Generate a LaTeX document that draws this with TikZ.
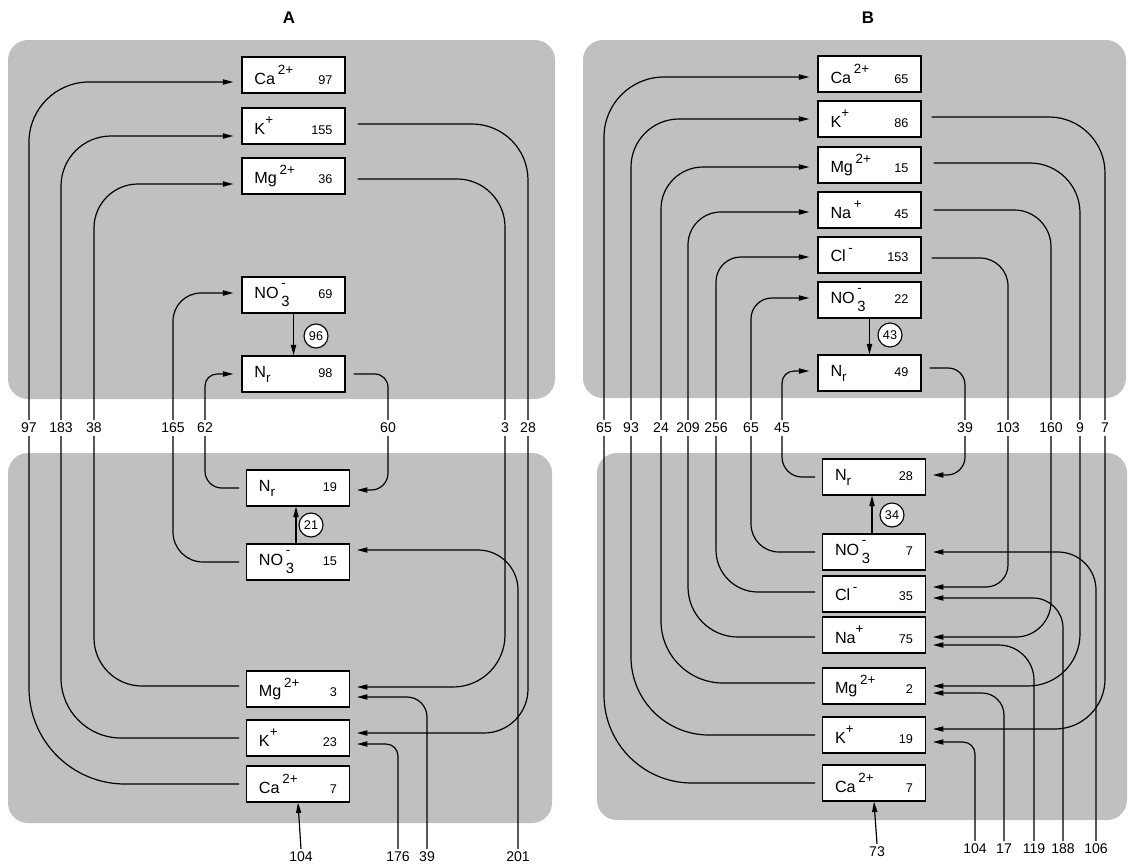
\documentclass[tikz,border=0pt]{standalone}
\usepackage{fontspec}
\setmainfont{Liberation Sans}
\usetikzlibrary{arrows.meta}
\definecolor{panelgray}{RGB}{192,192,192}
\newcommand{\chg}[1]{\raisebox{1.15ex}{\fontsize{9.5}{10}\selectfont #1}}
\newcommand{\amt}[1]{{\fontsize{9}{10}\selectfont #1}}
\newcommand{\nitrate}{NO\,\rlap{\raisebox{1.25ex}{\fontsize{9.5}{10}\selectfont -}}\raisebox{-0.9ex}{\fontsize{10.5}{11}\selectfont 3}}
\newcommand{\nred}{N\raisebox{-0.6ex}{\fontsize{9.5}{10}\selectfont r}}
\newcommand{\pool}[2]{\makebox[1.95cm]{#1\hfill\amt{#2}}}

\begin{document}
\begin{tikzpicture}[
    x=0.025cm, y=-0.025cm,
    box/.style={draw, fill=white, line width=0.9pt, minimum width=2.575cm,
                minimum height=0.9cm, inner sep=0pt, font=\fontsize{11.5}{13}\selectfont},
    rate/.style={circle, draw, fill=white, line width=0.8pt, minimum size=0.6cm,
                 inner sep=0pt, font=\fontsize{9}{10}\selectfont},
    lbl/.style={inner sep=2pt, font=\fontsize{10}{11}\selectfont},
    ttl/.style={font=\bfseries\fontsize{12}{13}\selectfont},
    flow/.style={line width=0.85pt},
    >={Triangle[length=0.26cm,width=0.13cm]}
  ]
    \useasboundingbox (0,0) rectangle (1130,863);

    % Panels
    \fill[panelgray, rounded corners=0.5cm] (8,40) rectangle (555,399);
    \fill[panelgray, rounded corners=0.5cm] (8,453) rectangle (552,823);
    \fill[panelgray, rounded corners=0.5cm] (583,40) rectangle (1126,398);
    \fill[panelgray, rounded corners=0.5cm] (597,453) rectangle (1127,820);

    \node[ttl] (titleA) at (289,18) {A};
    \node[ttl] (titleB) at (868,18) {B};

    % ---------------- A ----------------
    % Upper pools
    \node[box] (aCaT) at (293.5,75)  {\pool{Ca\,\chg{2+}}{97}};
    \node[box] (aKT)  at (293.5,126) {\pool{K\chg{+}}{155}};
    \node[box] (aMgT) at (293.5,176) {\pool{Mg\,\chg{2+}}{36}};
    \node[box] (aNOT) at (293.5,295) {\pool{\nitrate}{69}};
    \node[box] (aNrT) at (293.5,374) {\pool{\nred}{98}};
    \node[rate] (aRT) at (316,336) {96};

    % Lower pools
    \node[box] (aNrB) at (298,488) {\pool{\nred}{19}};
    \node[box] (aNOB) at (298,562) {\pool{\nitrate}{15}};
    \node[box] (aMgB) at (298,689) {\pool{Mg\,\chg{2+}}{3}};
    \node[box] (aKB)  at (298,738) {\pool{K\chg{+}}{23}};
    \node[box] (aCaB) at (298,784) {\pool{Ca\,\chg{2+}}{7}};
    \node[rate] (aRB) at (311,525) {21};

    % Flow values
    \node[lbl] (a97)  at (29,428)  {97};
    \node[lbl] (a183) at (61,428)  {183};
    \node[lbl] (a38)  at (94,428)  {38};
    \node[lbl] (a165) at (173,428) {165};
    \node[lbl] (a62)  at (205,428) {62};
    \node[lbl] (a60)  at (388,428) {60};
    \node[lbl] (a3)   at (505,428) {3};
    \node[lbl] (a28)  at (528,428) {28};
    \node[lbl] (a104) at (301,857) {104};
    \node[lbl] (a176) at (398,857) {176};
    \node[lbl] (a39)  at (427,857) {39};
    \node[lbl] (a201) at (518,857) {201};

    % Upward flows into upper pools
    \draw[flow, ->, rounded corners=1.5cm, shorten >=0.2cm] (a97.north) |- ([yshift=-0.175cm]aCaT.west);
    \draw[flow, ->, rounded corners=1.25cm, shorten >=0.2cm] (a183.north) |- ([yshift=-0.25cm]aKT.west);
    \draw[flow, ->, rounded corners=1.1cm, shorten >=0.2cm] (a38.north) |- ([yshift=-0.2cm]aMgT.west);
    \draw[flow, ->, rounded corners=0.7cm, shorten >=0.2cm] (a165.north) |- ([yshift=0.05cm]aNOT.west);
    \draw[flow, ->, rounded corners=0.3cm, shorten >=0.2cm] (a62.north) |- (aNrT.west);
    \draw[flow, rounded corners=1.4cm, shorten <=0.3cm] ([yshift=0.05cm]aKT.east) -| (a28.north);
    \draw[flow, rounded corners=1.2cm, shorten <=0.3cm] ([yshift=-0.075cm]aMgT.east) -| (a3.north);
    \draw[flow, rounded corners=0.33cm, shorten <=0.2cm] (aNrT.east) -| (a60.north);
    \draw[flow, ->] (aNOT.south) -- (aNrT.north);

    % Lower pools
    \draw[flow, rounded corners=2.4cm, shorten >=0.17cm] (a97.south) |- (aCaB.west);
    \draw[flow, rounded corners=1.5cm, shorten >=0.17cm] (a183.south) |- (aKB.west);
    \draw[flow, rounded corners=1.2cm, shorten >=0.17cm] (a38.south) |- ([yshift=0.075cm]aMgB.west);
    \draw[flow, rounded corners=0.75cm, shorten >=0.17cm] (a165.south) |- (aNOB.west);
    \draw[flow, rounded corners=0.42cm, shorten >=0.17cm] (a62.south) |- (aNrB.west);
    \draw[flow, ->, rounded corners=0.42cm, shorten >=0.17cm] (a60.south) |- ([yshift=-0.05cm]aNrB.east);
    \draw[flow, ->, rounded corners=1.3cm, shorten >=0.17cm] (a3.south) |- ([yshift=0.05cm]aMgB.east);
    \draw[flow, ->, rounded corners=1.1cm, shorten >=0.17cm] (a28.south) |- ([yshift=0.125cm]aKB.east);
    \draw[flow, ->, rounded corners=1cm, shorten >=0.17cm] (a201.north) |- ([yshift=0.3cm]aNOB.east);
    \draw[flow, ->, rounded corners=0.5cm, shorten >=0.17cm] (a39.north) |- ([yshift=-0.2cm]aMgB.east);
    \draw[flow, ->, rounded corners=0.3cm, shorten >=0.17cm] (a176.north) |- ([yshift=-0.15cm]aKB.east);
    \draw[flow, ->] (a104.north) -- (aCaB.south);
    \draw[flow, ->] ([xshift=-0.05cm]aNOB.north) -- ([xshift=-0.05cm]aNrB.south);

    % ---------------- B ----------------
    % Upper pools
    \node[box] (bCaT) at (869.5,74)  {\pool{Ca\,\chg{2+}}{65}};
    \node[box] (bKT)  at (869.5,119) {\pool{K\chg{+}}{86}};
    \node[box] (bMgT) at (869.5,165) {\pool{Mg\,\chg{2+}}{15}};
    \node[box] (bNaT) at (869.5,210) {\pool{Na\,\chg{+}}{45}};
    \node[box] (bClT) at (869.5,255) {\pool{Cl\,\chg{-}}{153}};
    \node[box] (bNOT) at (869.5,300) {\pool{\nitrate}{22}};
    \node[box] (bNrT) at (869.5,373) {\pool{\nred}{49}};
    \node[rate] (bRT) at (890,335) {43};

    % Lower pools
    \node[box] (bNrB) at (874,477) {\pool{\nred}{28}};
    \node[box] (bNOB) at (874,552) {\pool{\nitrate}{7}};
    \node[box] (bClB) at (874,594) {\pool{Cl\,\chg{-}}{35}};
    \node[box] (bNaB) at (874,635) {\pool{Na\chg{+}}{75}};
    \node[box] (bMgB) at (874,686) {\pool{Mg\,\chg{2+}}{2}};
    \node[box] (bKB)  at (874,735) {\pool{K\chg{+}}{19}};
    \node[box] (bCaB) at (874,783) {\pool{Ca\,\chg{2+}}{7}};
    \node[rate] (bRB) at (892,515) {34};

    % Flow values
    \node[lbl] (b65a) at (604,428)  {65};
    \node[lbl] (b93)  at (631,428)  {93};
    \node[lbl] (b24)  at (661,428)  {24};
    \node[lbl] (b209) at (688,428)  {209};
    \node[lbl] (b256) at (716,428)  {256};
    \node[lbl] (b65b) at (751,428)  {65};
    \node[lbl] (b45)  at (782,428)  {45};
    \node[lbl] (b39)  at (965,428)  {39};
    \node[lbl] (b103) at (1008,428) {103};
    \node[lbl] (b160) at (1051,428) {160};
    \node[lbl] (b9)   at (1080,428) {9};
    \node[lbl] (b7)   at (1105,428) {7};
    \node[lbl] (b73)  at (877,852)  {73};
    \node[lbl] (b104) at (975,849)  {104};
    \node[lbl] (b17)  at (1004,849) {17};
    \node[lbl] (b119) at (1034,849) {119};
    \node[lbl] (b188) at (1063,849) {188};
    \node[lbl] (b106) at (1096,849) {106};

    % Upward flows into upper pools
    \draw[flow, ->, rounded corners=1.5cm, shorten >=0.2cm] (b65a.north) |- ([yshift=-0.075cm]bCaT.west);
    \draw[flow, ->, rounded corners=1.2cm, shorten >=0.2cm] (b93.north) |- (bKT.west);
    \draw[flow, ->, rounded corners=1.05cm, shorten >=0.2cm] (b24.north) |- ([yshift=-0.05cm]bMgT.west);
    \draw[flow, ->, rounded corners=0.82cm, shorten >=0.2cm] (b209.north) |- ([yshift=-0.05cm]bNaT.west);
    \draw[flow, ->, rounded corners=0.62cm, shorten >=0.2cm] (b256.north) |- ([yshift=-0.05cm]bClT.west);
    \draw[flow, ->, rounded corners=0.52cm, shorten >=0.2cm] (b65b.north) |- ([yshift=0.05cm]bNOT.west);
    \draw[flow, ->, rounded corners=0.3cm, shorten >=0.2cm] (b45.north) |- ([yshift=0.05cm]bNrT.west);
    \draw[flow, rounded corners=1.4cm, shorten <=0.25cm] ([yshift=0.05cm]bKT.east) -| (b7.north);
    \draw[flow, rounded corners=1.25cm, shorten <=0.3cm] ([yshift=0.05cm]bMgT.east) -| (b9.north);
    \draw[flow, rounded corners=0.92cm, shorten <=0.3cm] (bNaT.east) -| (b160.north);
    \draw[flow, rounded corners=0.7cm, shorten <=0.25cm] ([yshift=-0.075cm]bClT.east) -| (b103.north);
    \draw[flow, rounded corners=0.42cm, shorten <=0.2cm] ([yshift=0.125cm]bNrT.east) -| (b39.north);
    \draw[flow, ->] (bNOT.south) -- (bNrT.north);

    % Lower pools
    \draw[flow, rounded corners=2.2cm, shorten >=0.17cm] (b65a.south) |- (bCaB.west);
    \draw[flow, rounded corners=1.95cm, shorten >=0.17cm] (b93.south) |- (bKB.west);
    \draw[flow, rounded corners=1.55cm, shorten >=0.17cm] (b24.south) |- ([yshift=0.075cm]bMgB.west);
    \draw[flow, rounded corners=1.25cm, shorten >=0.17cm] (b209.south) |- ([yshift=-0.05cm]bNaB.west);
    \draw[flow, rounded corners=1.05cm, shorten >=0.17cm] (b256.south) |- ([yshift=0.05cm]bClB.west);
    \draw[flow, rounded corners=0.7cm, shorten >=0.17cm] (b65b.south) |- (bNOB.west);
    \draw[flow, rounded corners=0.5cm, shorten >=0.17cm] (b45.south) |- (bNrB.west);
    \draw[flow, ->, rounded corners=0.45cm, shorten >=0.17cm] (b39.south) |- ([yshift=0.05cm]bNrB.east);
    \draw[flow, ->, rounded corners=0.55cm, shorten >=0.17cm] (b103.south) |- ([yshift=0.175cm]bClB.east);
    \draw[flow, ->, rounded corners=0.88cm, shorten >=0.17cm] (b160.south) |- ([yshift=-0.05cm]bNaB.east);
    \draw[flow, ->, rounded corners=1.3cm, shorten >=0.17cm] (b9.south) |- (bMgB.east);
    \draw[flow, ->, rounded corners=1.25cm, shorten >=0.17cm] (b7.south) |- ([yshift=0.15cm]bKB.east);
    \draw[flow, ->, rounded corners=0.95cm, shorten >=0.17cm] (b106.north) |- (bNOB.east);
    \draw[flow, ->, rounded corners=0.75cm, shorten >=0.17cm] (b188.north) |- ([yshift=-0.1cm]bClB.east);
    \draw[flow, ->, rounded corners=0.88cm, shorten >=0.17cm] (b119.north) |- ([yshift=-0.25cm]bNaB.east);
    \draw[flow, ->, rounded corners=0.55cm, shorten >=0.17cm] (b17.north) |- ([yshift=-0.175cm]bMgB.east);
    \draw[flow, ->, rounded corners=0.3cm, shorten >=0.17cm] (b104.north) |- ([yshift=-0.175cm]bKB.east);
    \draw[flow, ->] (b73.north) -- (bCaB.south);
    \draw[flow, ->] ([xshift=-0.05cm]bNOB.north) -- ([xshift=-0.05cm]bNrB.south);
  \end{tikzpicture}
\end{document}
